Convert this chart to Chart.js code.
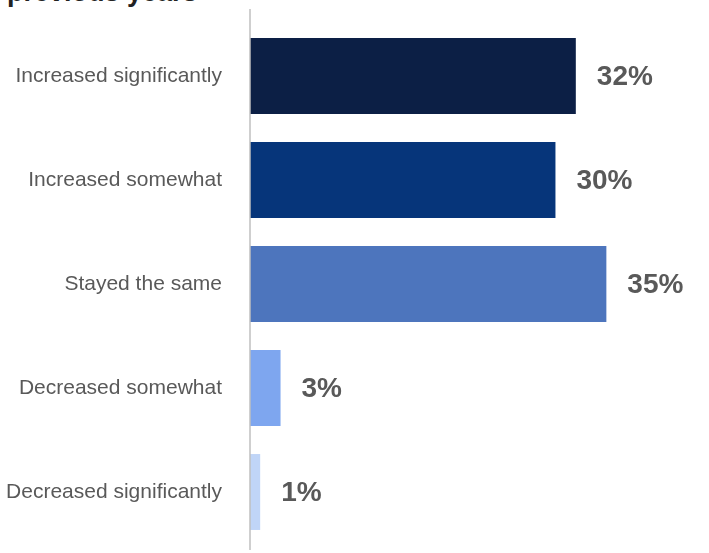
<!DOCTYPE html>
<html lang="en">
  <head>
    <meta charset="UTF-8" />
    <title>Change compared to previous years</title>
    <script src="https://cdn.jsdelivr.net/npm/chart.js@4.4.1/dist/chart.umd.min.js"></script>
    <style>
      html,
      body {
        margin: 0;
        padding: 0;
        background: #fff;
        overflow: hidden;
      }
      #wrap {
        position: relative;
        width: 709px;
        height: 553px;
      }
      #title {
        position: absolute;
        left: 7px;
        top: -23px;
        font: bold 27px "Liberation Sans", Arial, sans-serif;
        color: #222;
        white-space: nowrap;
      }
      canvas {
        position: absolute;
        left: 0;
        top: 0;
      }
    </style>
  </head>
  <body>
    <div id="wrap">
      <div id="title">previous years</div>
      <canvas id="chart_id" width="709" height="553"></canvas>
    </div>
    <script>
      // answers and share of respondents (%)
      const categories = [
        "Increased significantly",
        "Increased somewhat",
        "Stayed the same",
        "Decreased somewhat",
        "Decreased significantly",
      ];
      const shares = [32, 30, 35, 3, 1];
      const barColors = ["#0c1f45", "#06357a", "#4d75bd", "#7ea6ef", "#c0d5f7"];

      // percentage labels to the right of each bar
      const valueLabels = {
        id: "valueLabels",
        afterDatasetsDraw(chart) {
          const ctx = chart.ctx;
          const meta = chart.getDatasetMeta(0);
          ctx.save();
          ctx.font = "bold 28px 'Liberation Sans', Arial, sans-serif";
          ctx.fillStyle = "#595959";
          ctx.textAlign = "left";
          ctx.textBaseline = "middle";
          meta.data.forEach((bar, i) => {
            ctx.fillText(shares[i] + "%", bar.x + 21, bar.y + 1);
          });
          ctx.restore();
        },
      };

      // vertical axis line, a little longer than the bar area
      const axisLine = {
        id: "axisLine",
        afterDraw(chart) {
          const ctx = chart.ctx;
          const a = chart.chartArea;
          ctx.save();
          ctx.strokeStyle = "#bfbfbf";
          ctx.lineWidth = 1.5;
          ctx.beginPath();
          ctx.moveTo(a.left, a.top - 15);
          ctx.lineTo(a.left, a.bottom + 6);
          ctx.stroke();
          ctx.restore();
        },
      };

      let ctx = document.getElementById("chart_id").getContext("2d");

      let chart = new Chart(ctx, {
        type: "bar",
        data: {
          labels: categories,
          datasets: [
            {
              data: shares,
              backgroundColor: barColors,
              borderWidth: 0,
              barPercentage: 0.73,
              categoryPercentage: 1,
            },
          ],
        },
        options: {
          indexAxis: "y",
          responsive: false,
          animation: false,
          layout: {
            padding: { top: 24, bottom: 9, right: 11, left: 0 },
          },
          plugins: {
            legend: { display: false },
            tooltip: { enabled: false },
          },
          scales: {
            x: {
              display: false,
              min: 0,
              max: 44,
            },
            y: {
              afterFit(scale) {
                // fixed label column; no extra vertical padding from the tick labels
                scale.width = 250;
                scale.paddingTop = 0;
                scale.paddingBottom = 0;
              },
              grid: { display: false, drawTicks: false },
              border: { display: false },
              ticks: {
                padding: 28,
                color: "#595959",
                font: { family: "'Liberation Sans', Arial, sans-serif", size: 21 },
              },
            },
          },
        },
        plugins: [valueLabels, axisLine],
      });
    </script>
  </body>
</html>
